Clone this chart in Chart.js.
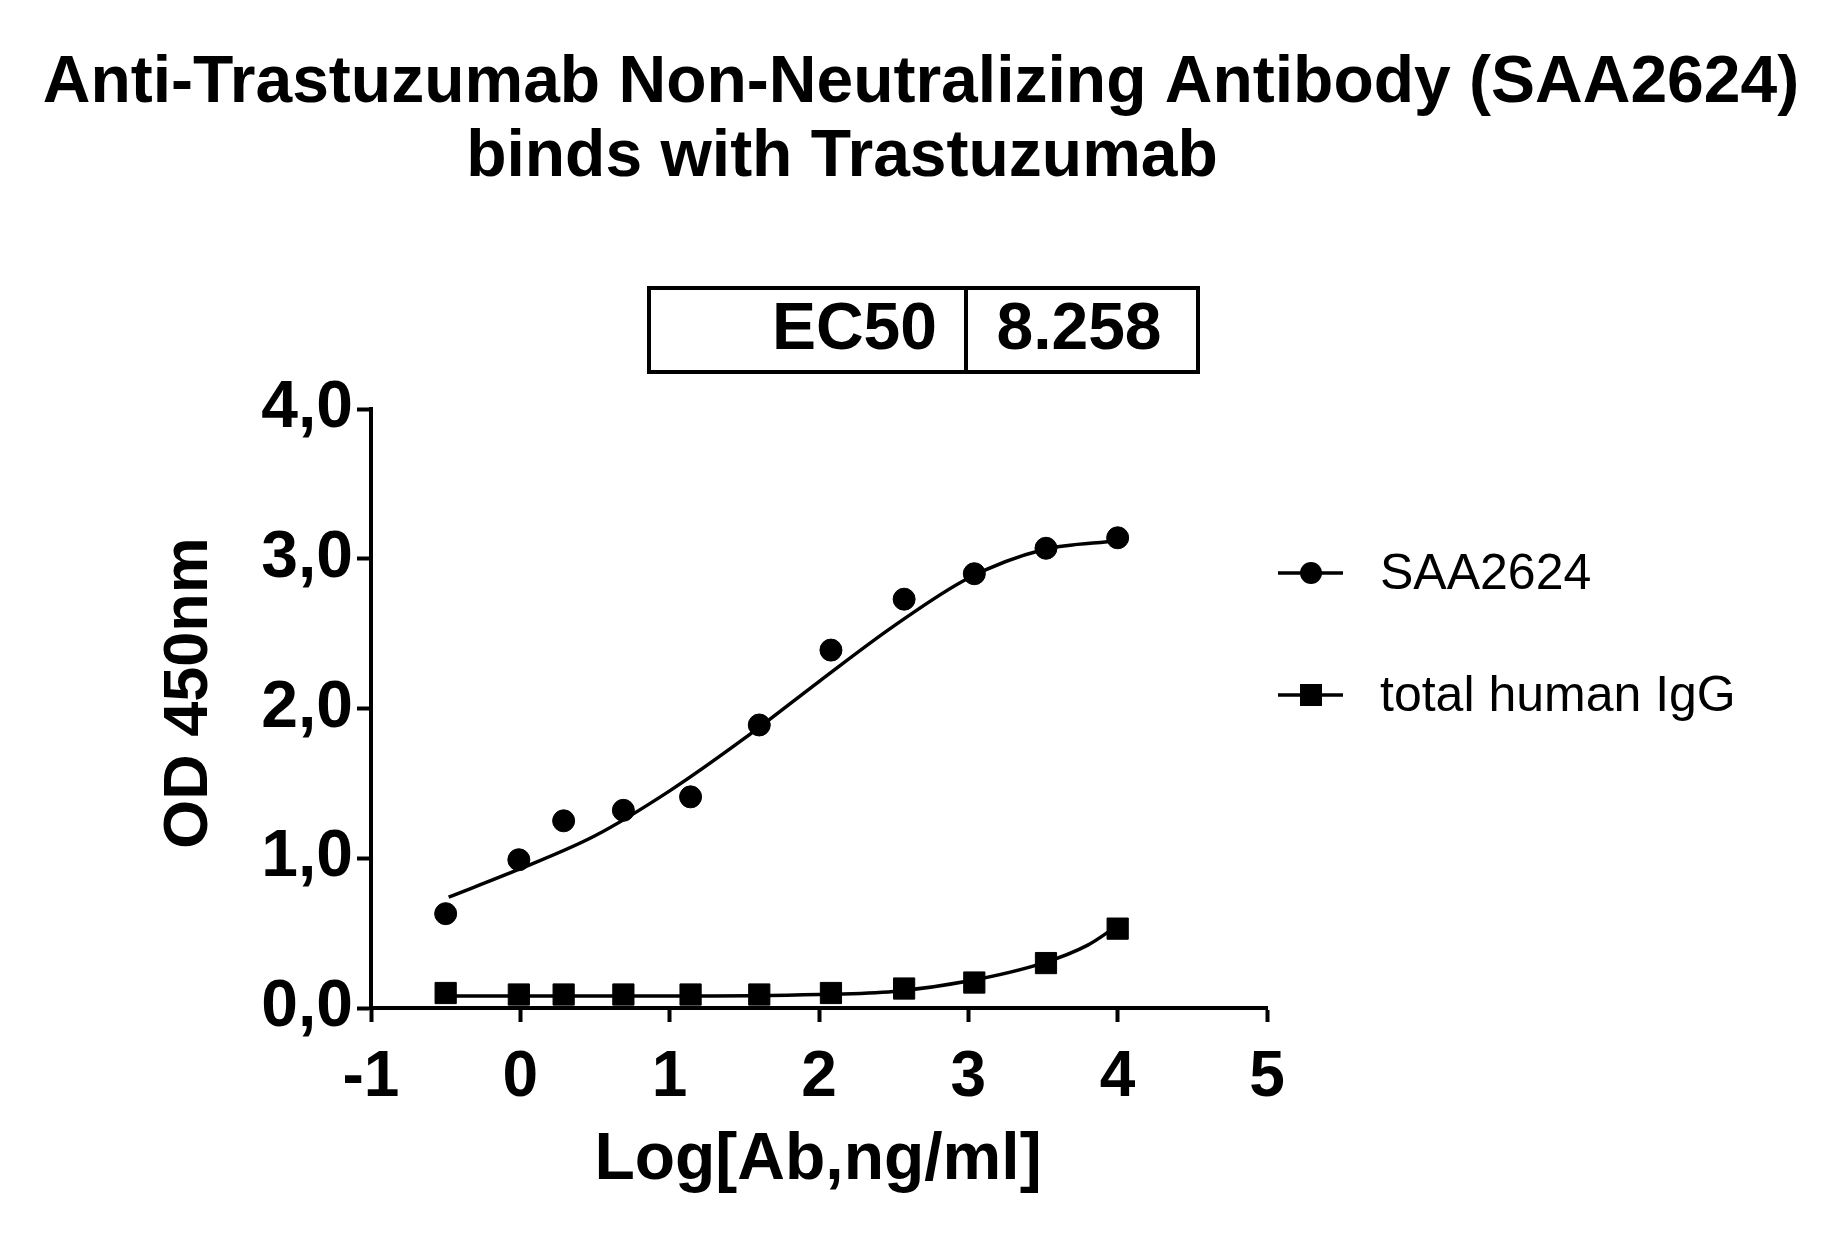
<!DOCTYPE html>
<html><head><meta charset="utf-8">
<script src="https://cdn.jsdelivr.net/npm/chart.js@4"></script>
<style>body{margin:0;background:#fff}canvas{display:block}</style>
</head><body>
<canvas id="c" width="1847" height="1238"></canvas>
<script>
const xSAA = [-0.5, -0.01, 0.29, 0.69, 1.14, 1.6, 2.08, 2.57, 3.04, 3.52, 4.0];
const ySAA = [0.63, 0.99, 1.25, 1.32, 1.41, 1.89, 2.39, 2.73, 2.90, 3.07, 3.14];
const xIgG = [-0.5, -0.01, 0.29, 0.69, 1.14, 1.6, 2.08, 2.57, 3.04, 3.52, 4.0];
const yIgG = [0.10, 0.09, 0.09, 0.09, 0.09, 0.09, 0.10, 0.13, 0.17, 0.30, 0.53];
const fitSAAx = [-0.48, 0, 0.5, 1, 1.5, 2, 2.5, 3, 3.5, 4];
const fitSAAy = [0.74, 0.93, 1.15, 1.45, 1.80, 2.18, 2.55, 2.87, 3.06, 3.12];
const fitIgGx = [-0.48, 1, 2, 2.5, 3, 3.5, 3.8, 4];
const fitIgGy = [0.08, 0.08, 0.09, 0.11, 0.18, 0.30, 0.42, 0.55];
const xTicks = [-1, 0, 1, 2, 3, 4, 5];
const yTicks = ["0,0", "1,0", "2,0", "3,0", "4,0"];
const seriesNames = ["SAA2624", "total human IgG"];
const titleLines = ["Anti-Trastuzumab Non-Neutralizing Antibody (SAA2624)", "binds with Trastuzumab"];
const ec50 = ["EC50", "8.258"];

const pts = (xs, ys) => xs.map((x, i) => ({x, y: ys[i]}));
const F = "'Liberation Sans', Arial, sans-serif";

const overlay = {
  id: 'overlay',
  afterDraw(chart) {
    const ctx = chart.ctx;
    ctx.save();
    ctx.fillStyle = '#000'; ctx.strokeStyle = '#000';
    ctx.textAlign = 'center'; ctx.textBaseline = 'middle';
    ctx.font = "bold 66px " + F;
    ctx.fillText(titleLines[0], 921, 84);
    ctx.fillText(titleLines[1], 842, 158);
    ctx.lineWidth = 4;
    ctx.strokeRect(649, 288, 549, 84);
    ctx.beginPath(); ctx.moveTo(966, 288); ctx.lineTo(966, 372); ctx.stroke();
    ctx.font = "bold 66px " + F;
    ctx.textAlign = 'right';
    ctx.fillText(ec50[0], 937, 331);
    ctx.textAlign = 'center';
    ctx.fillText(ec50[1], 1079, 331);
    ctx.font = "bold 66px " + F;
    ctx.fillText("Log[Ab,ng/ml]", 818, 1161);
    ctx.save();
    ctx.translate(190, 693); ctx.rotate(-Math.PI / 2);
    ctx.font = "bold 63px " + F;
    ctx.fillText("OD 450nm", 0, 0);
    ctx.restore();
    ctx.font = "50px " + F; ctx.textAlign = 'left';
    const ly = [573, 695];
    ly.forEach((y, i) => {
      ctx.lineWidth = 3.5;
      ctx.beginPath(); ctx.moveTo(1278, y); ctx.lineTo(1343, y); ctx.stroke();
      if (i === 0) { ctx.beginPath(); ctx.arc(1311, y, 11, 0, Math.PI * 2); ctx.fill(); }
      else ctx.fillRect(1300, y - 11, 22, 22);
      ctx.fillText(seriesNames[i], 1380, y + 2);
    });
    ctx.restore();
  }
};

new Chart(document.getElementById('c'), {
  type: 'scatter',
  data: { datasets: [
    { data: pts(fitSAAx, fitSAAy), showLine: true, borderColor: '#000', borderWidth: 3.5, pointRadius: 0, cubicInterpolationMode: 'monotone' },
    { data: pts(fitIgGx, fitIgGy), showLine: true, borderColor: '#000', borderWidth: 3.5, pointRadius: 0, cubicInterpolationMode: 'monotone' },
    { label: seriesNames[0], data: pts(xSAA, ySAA), pointStyle: 'circle', pointRadius: 11, backgroundColor: '#000', borderColor: '#000' },
    { label: seriesNames[1], data: pts(xIgG, yIgG), pointStyle: 'rect', pointRadius: 15, backgroundColor: '#000', borderColor: '#000' }
  ]},
  options: {
    responsive: false, animation: false, devicePixelRatio: 1,
    layout: { padding: { left: 0, right: 580, top: 409, bottom: 0 } },
    plugins: { legend: { display: false }, tooltip: { enabled: false } },
    scales: {
      x: { type: 'linear', min: -1, max: 5,
        afterBuildTicks: s => { s.ticks = xTicks.map(v => ({value: v})); },
        afterFit: s => { s.height = 230; },
        grid: { display: true, drawOnChartArea: false, drawTicks: true, tickLength: 14, tickWidth: 4, tickColor: '#000' },
        border: { color: '#000', width: 4 },
        ticks: { color: '#000', padding: 18, font: { family: F, size: 64, weight: 'bold' } } },
      y: { type: 'linear', min: 0, max: 4,
        afterBuildTicks: s => { s.ticks = [0,1,2,3,4].map(v => ({value: v})); },
        afterFit: s => { s.width = 371; },
        grid: { display: true, drawOnChartArea: false, drawTicks: true, tickLength: 14, tickWidth: 4, tickColor: '#000' },
        border: { color: '#000', width: 4 },
        ticks: { color: '#000', padding: 4, font: { family: F, size: 66, weight: 'bold' }, callback: (v) => yTicks[v] } }
    }
  },
  plugins: [overlay]
});
</script>
</body></html>
